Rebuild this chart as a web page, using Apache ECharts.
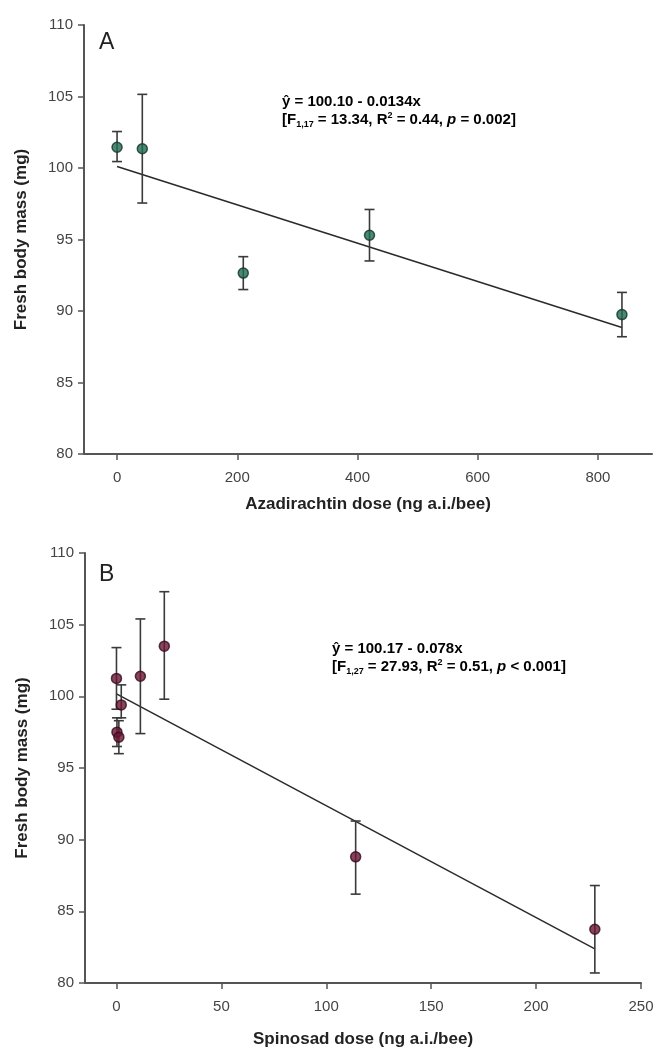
<!DOCTYPE html>
<html><head><meta charset="utf-8">
<script src="https://cdn.jsdelivr.net/npm/echarts@6/dist/echarts.min.js"></script>
<style>html,body{margin:0;padding:0;background:#fff}#c{width:663px;height:1047px}</style>
</head><body><div id="c"></div>
<script>
// Panel A: Azadirachtin
const azaDose = [0, 42, 210, 420, 840];
const azaMean = [101.45, 101.35, 92.65, 95.3, 89.75];
const azaLow  = [100.45, 97.55, 91.5, 93.5, 88.2];
const azaHigh = [102.55, 105.15, 93.8, 97.1, 91.3];
const azaFitX = [0, 840];
const azaIntercept = 100.10, azaSlope = -0.0134;
const azaTicks = [0, 200, 400, 600, 800];

// Panel B: Spinosad
const spiDose = [0, 0.23, 1.14, 2.28, 11.4, 22.8, 114, 228];
const spiMean = [101.25, 97.5, 97.15, 99.4, 101.4, 103.5, 88.8, 83.75];
const spiLow  = [99.1, 96.5, 96.0, 98.5, 97.4, 99.8, 86.2, 80.7];
const spiHigh = [103.4, 98.5, 98.3, 100.8, 105.4, 107.3, 91.3, 86.8];
const spiFitX = [0, 228];
const spiIntercept = 100.17, spiSlope = -0.078;
const spiTicks = [0, 50, 100, 150, 200, 250];

const chart = echarts.init(document.getElementById('c'), null, {renderer:'canvas'});
const F = '"Liberation Sans", Arial, sans-serif';
const axisCol = '#555';

function errSeries(xi, yi, dose, low, high) {
  return {
    type: 'custom', xAxisIndex: xi, yAxisIndex: yi, z: 2,
    data: dose.map((d, i) => [d, low[i], high[i]]),
    renderItem: function (params, api) {
      const lo = api.coord([api.value(0), api.value(1)]);
      const hi = api.coord([api.value(0), api.value(2)]);
      const w = 5;
      const st = {stroke: '#3a3a3a', lineWidth: 1.6};
      return {type: 'group', children: [
        {type: 'line', shape: {x1: lo[0], y1: lo[1], x2: hi[0], y2: hi[1]}, style: st},
        {type: 'line', shape: {x1: hi[0]-w, y1: hi[1], x2: hi[0]+w, y2: hi[1]}, style: st},
        {type: 'line', shape: {x1: lo[0]-w, y1: lo[1], x2: lo[0]+w, y2: lo[1]}, style: st}
      ]};
    }
  };
}

function xAxis(gi, min, max, ticks, name, gap) {
  return {
    type: 'value', gridIndex: gi, min: min, max: max,
    name: name, nameLocation: 'middle', nameGap: gap,
    nameTextStyle: {fontFamily: F, fontWeight: 'bold', fontSize: 17, color: '#222'},
    axisLine: {onZero: false, lineStyle: {color: axisCol, width: 2}},
    axisTick: {show: true, length: 6, lineStyle: {color: axisCol, width: 1.5}, customValues: ticks},
    axisLabel: {fontFamily: F, fontSize: 15, color: '#444', margin: 16, customValues: ticks},
    splitLine: {show: false}
  };
}
function yAxis(gi) {
  return {
    type: 'value', gridIndex: gi, min: 80, max: 110, interval: 5,
    name: 'Fresh body mass (mg)', nameLocation: 'middle', nameGap: 54,
    nameTextStyle: {fontFamily: F, fontWeight: 'bold', fontSize: 17, color: '#222'},
    axisLine: {onZero: false, lineStyle: {color: axisCol, width: 2}},
    axisTick: {length: 6, lineStyle: {color: axisCol, width: 1.5}},
    axisLabel: {fontFamily: F, fontSize: 15, color: '#444', margin: 11},
    splitLine: {show: false}
  };
}

const richEq = {
  b: {fontFamily: F, fontWeight: 'bold', fontSize: 15, color: '#222'},
  sub: {fontFamily: F, fontWeight: 'bold', fontSize: 9, color: '#222', padding: [9, 0, 0, 0]},
  sup: {fontFamily: F, fontWeight: 'bold', fontSize: 9, color: '#222', padding: [0, 0, 9, 0]},
  i: {fontFamily: F, fontWeight: 'bold', fontStyle: 'italic', fontSize: 15, color: '#222'}
};

const option = {
  animation: false,
  backgroundColor: '#fff',
  grid: [
    {left: 84, right: 11, top: 25, height: 429, outerBoundsMode: 'none', containLabel: false},
    {left: 85, right: 22, top: 553, height: 430, outerBoundsMode: 'none', containLabel: false}
  ],
  xAxis: [
    xAxis(0, -55, 890, azaTicks, 'Azadirachtin dose (ng a.i./bee)', 42),
    xAxis(1, -15, 250, spiTicks, 'Spinosad dose (ng a.i./bee)', 48)
  ],
  yAxis: [yAxis(0), yAxis(1)],
  graphic: [
    {type: 'text', left: 99, top: 31, style: {text: 'A', font: '23px ' + F, fill: '#222'}},
    {type: 'text', left: 99, top: 563, style: {text: 'B', font: '23px ' + F, fill: '#222'}},
    {type: 'text', left: 282, top: 93, style: {
      text: '{b|ŷ = 100.10 - 0.0134x}\n{b|[F}{sub|1,17}{b| = 13.34, R}{sup|2}{b| = 0.44, }{i|p}{b| = 0.002]}',
      rich: richEq, lineHeight: 18}},
    {type: 'text', left: 332, top: 640, style: {
      text: '{b|ŷ = 100.17 - 0.078x}\n{b|[F}{sub|1,27}{b| = 27.93, R}{sup|2}{b| = 0.51, }{i|p}{b| < 0.001]}',
      rich: richEq, lineHeight: 18}}
  ],
  series: [
    {type: 'line', xAxisIndex: 0, yAxisIndex: 0, symbol: 'none', z: 1,
      lineStyle: {color: '#2a2a2a', width: 1.5},
      data: azaFitX.map(x => [x, azaIntercept + azaSlope * x])},
    errSeries(0, 0, azaDose, azaLow, azaHigh),
    {type: 'scatter', xAxisIndex: 0, yAxisIndex: 0, symbolSize: 10, z: 3,
      itemStyle: {color: '#1f6a52', borderColor: '#0f3327', borderWidth: 1.5},
      data: azaDose.map((d, i) => [d, azaMean[i]])},
    {type: 'line', xAxisIndex: 1, yAxisIndex: 1, symbol: 'none', z: 1,
      lineStyle: {color: '#2a2a2a', width: 1.5},
      data: spiFitX.map(x => [x, spiIntercept + spiSlope * x])},
    errSeries(1, 1, spiDose, spiLow, spiHigh),
    {type: 'scatter', xAxisIndex: 1, yAxisIndex: 1, symbolSize: 10, z: 3,
      itemStyle: {color: '#6a1434', borderColor: '#360a1a', borderWidth: 1.5},
      data: spiDose.map((d, i) => [d, spiMean[i]])}
  ]
};
chart.setOption(option);
</script>
</body></html>
